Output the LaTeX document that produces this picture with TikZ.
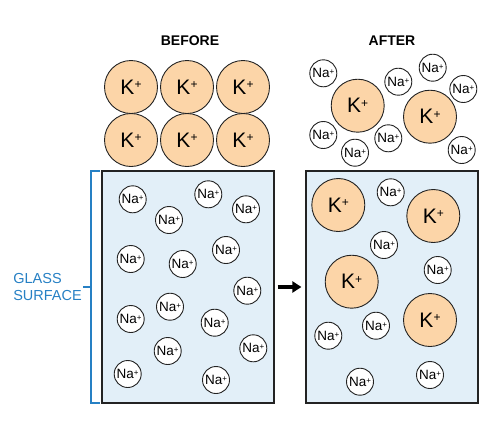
\documentclass[tikz,border=0pt]{standalone}
\usepackage{fontspec}
\setmainfont{Liberation Sans}
\usetikzlibrary{arrows.meta}
\definecolor{kfill}{RGB}{252,213,168}
\definecolor{boxfill}{RGB}{226,239,248}
\definecolor{glassblue}{RGB}{38,128,196}
\definecolor{edge}{RGB}{35,35,35}
\newcommand{\naion}{Na\raisebox{0.45ex}{\fontsize{8}{8}\selectfont +}}
\newcommand{\kion}{K\raisebox{0.5ex}{\fontsize{12}{12}\selectfont +}}
\begin{document}
\begin{tikzpicture}[x=1pt,y=-1pt,
  na/.style={circle,draw=edge,line width=0.9pt,fill=white,minimum size=27pt,inner sep=0pt,font=\fontsize{13.5}{13.5}\selectfont},
  kk/.style={circle,draw=edge,line width=0.9pt,fill=kfill,minimum size=53pt,inner sep=0pt,font=\fontsize{21}{21}\selectfont},
  glass/.style={draw=edge,line width=1.2pt,fill=boxfill,minimum width=172pt,minimum height=232pt,inner sep=0pt},
  title/.style={font=\fontsize{14}{14}\selectfont\bfseries}]
\useasboundingbox (0,0) rectangle (500,437);
% titles
\node[title] (tbefore) at (190,41) {BEFORE};
\node[title] (tafter) at (392,41) {AFTER};
% boxes
\node[glass] (leftbox) at (188,287) {};
\node[glass] (rightbox) at (392,287) {};
% top-left K+ grid
\node[kk] (k1) at (131,87) {\kion};
\node[kk] (k2) at (187,87) {\kion};
\node[kk] (k3) at (243,87) {\kion};
\node[kk] (k4) at (131,140) {\kion};
\node[kk] (k5) at (187,140) {\kion};
\node[kk] (k6) at (243,140) {\kion};
% left box Na+
\node[na] (l1) at (132.7,199.3) {\naion};
\node[na] (l2) at (208.3,194.3) {\naion};
\node[na] (l3) at (246,209.3) {\naion};
\node[na] (l4) at (169,220) {\naion};
\node[na] (l5) at (130.7,259) {\naion};
\node[na] (l6) at (226,250) {\naion};
\node[na] (l7) at (182.7,264) {\naion};
\node[na] (l8) at (247.3,290.7) {\naion};
\node[na] (l9) at (170,306.7) {\naion};
\node[na] (l10) at (130.7,319) {\naion};
\node[na] (l11) at (214.7,322.7) {\naion};
\node[na] (l12) at (167.7,351) {\naion};
\node[na] (l13) at (253.3,348.3) {\naion};
\node[na] (l14) at (127.7,374) {\naion};
\node[na] (l15) at (216,380) {\naion};
% top-right
\node[na] (t1) at (323.3,73.3) {\naion};
\node[na] (t2) at (398.3,81.7) {\naion};
\node[na] (t3) at (432.7,67.7) {\naion};
\node[na] (t4) at (463.3,89) {\naion};
\node[na] (t5) at (323.3,135) {\naion};
\node[na] (t6) at (355,152.7) {\naion};
\node[na] (t7) at (388.3,138.3) {\naion};
\node[na] (t8) at (461.7,150) {\naion};
\node[kk] (tk1) at (357.7,105.7) {\kion};
\node[kk] (tk2) at (430,116.7) {\kion};
% right box
\node[kk] (r1) at (338.3,205) {\kion};
\node[kk] (r2) at (433.3,216) {\kion};
\node[kk] (r3) at (351.7,281.7) {\kion};
\node[kk] (r4) at (430,320) {\kion};
\node[na] (rn1) at (390.7,192.3) {\naion};
\node[na] (rn2) at (384,245) {\naion};
\node[na] (rn3) at (437.7,270) {\naion};
\node[na] (rn4) at (376,325.7) {\naion};
\node[na] (rn5) at (328.3,335.7) {\naion};
\node[na] (rn6) at (360,381.7) {\naion};
\node[na] (rn7) at (430,375) {\naion};
% arrow
\draw[line width=4pt,-{Triangle[length=9pt,width=11pt]},shorten <=3pt,shorten >=4pt] (leftbox.east) -- (rightbox.west);
% bracket
\coordinate (bt) at (91,171);
\coordinate (bb) at (91,403);
\coordinate (bm) at (91,287);
\draw[glassblue,line width=1.2pt] ([xshift=9pt]bt) -- (bt) -- (bb) -- ++(9,0);
\draw[glassblue,line width=1.2pt] (bm) -- ++(-8,0) coordinate (bl);
\node[anchor=east,align=left,text=glassblue,font=\fontsize{14.5}{17}\selectfont,inner sep=1pt] (glab) at (bl) {GLASS\\SURFACE};
\end{tikzpicture}
\end{document}
